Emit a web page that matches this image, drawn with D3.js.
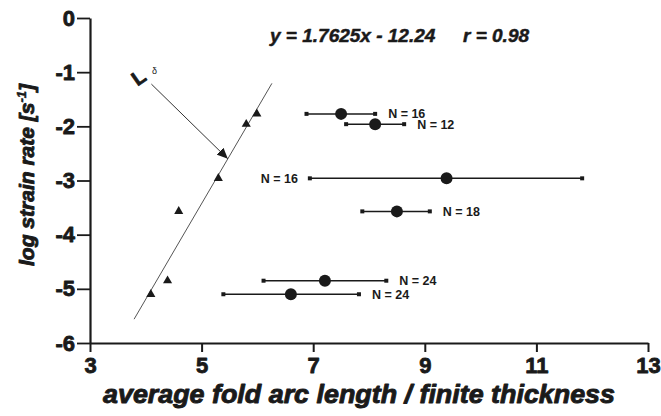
<!DOCTYPE html>
<html><head><meta charset="utf-8">
<script src="https://cdn.jsdelivr.net/npm/d3@7"></script>
<style>
html,body{margin:0;padding:0;background:#fff;}
svg{display:block;font-family:"Liberation Sans",Arial,sans-serif;}
</style></head><body>
<svg id="chart" width="661" height="416"></svg>
<script>
// Triangles: samples used for the regression fit
const triArc  = [4.09, 4.39, 4.59, 5.30, 5.80, 5.99];
const triRate = [-5.10, -4.85, -3.57, -2.96, -1.96, -1.77];

// Circles: mean arc length / thickness with min-max range bars
const circArc  = [7.50, 8.11, 9.39, 8.50, 7.21, 6.60];
const circLo   = [6.88, 7.59, 6.94, 7.88, 6.11, 5.39];
const circHi   = [8.11, 8.63, 11.82, 9.09, 8.31, 7.82];
const circRate = [-1.77, -1.96, -2.96, -3.57, -4.85, -5.10];
const circN    = [16, 12, 16, 18, 24, 24];
const circSide = ["right", "right", "left", "right", "right", "right"];

// Axis ticks
const xMajor = [3, 5, 7, 9, 11, 13];
const xMinor = [3.4, 3.8, 4.2, 4.6, 5.4, 5.8, 6.2, 6.6, 7.4, 7.8, 8.2, 8.6,
                9.4, 9.8, 10.2, 10.6, 11.4, 11.8, 12.2, 12.6];
const yMajor = [0, -1, -2, -3, -4, -5, -6];
const yMinor = [-0.5, -1.5, -2.5, -3.5, -4.5, -5.5];

// Regression line y = a x + b
const slope = 1.7625, intercept = -12.24, rValue = 0.98;
const fitRange = [3.79, 6.26];

// L-delta annotation arrow (data coordinates)
const arrowFrom = [4.10, -1.22];
const arrowTo   = [5.47, -2.60];

const svg = d3.select("#chart");
const ink = "#1a1a1a";
const FONT = "'Liberation Sans', Arial, sans-serif";

const x = d3.scaleLinear().domain([3, 13]).range([90, 648]);
const y = d3.scaleLinear().domain([-6, 0]).range([343, 18]);

// heavy text: bold face plus a thin outline of the same ink
function heavy(sel, w) {
  return sel.attr("fill", ink).attr("stroke", ink).attr("stroke-width", w)
    .attr("stroke-linejoin", "round").attr("font-weight", "bold");
}

// ---- axes ----
const gx = svg.append("g").attr("transform", `translate(0,${y(-6)})`);
gx.call(d3.axisBottom(x).tickValues(xMinor).tickSize(4).tickSizeOuter(0).tickFormat(""));
gx.call(d3.axisBottom(x).tickValues(xMajor).tickSize(9).tickSizeOuter(0).tickPadding(5));
gx.selectAll("path").attr("stroke", ink).attr("stroke-width", 2.2);
gx.selectAll("line").attr("stroke", ink).attr("stroke-width", 2);
heavy(gx.selectAll("text"), 0.8).attr("font-size", 22).attr("font-family", FONT);

const gy = svg.append("g").attr("transform", `translate(${x(3)},0)`);
gy.call(d3.axisLeft(y).tickValues(yMinor).tickSize(4).tickSizeOuter(0).tickFormat(""));
gy.call(d3.axisLeft(y).tickValues(yMajor).tickSize(13).tickSizeOuter(0).tickPadding(2)
  .tickFormat(d3.format("d")));
gy.selectAll("path").attr("stroke", ink).attr("stroke-width", 2.2);
gy.selectAll("line").attr("stroke", ink).attr("stroke-width", 1.8);
heavy(gy.selectAll("text"), 0.8).attr("font-size", 22).attr("font-family", FONT)
  .text(d => d < 0 ? "-" + Math.abs(d) : d);

// ---- axis titles ----
heavy(svg.append("text"), 0.9)
  .attr("x", 103).attr("y", 403)
  .attr("textLength", 512).attr("lengthAdjust", "spacingAndGlyphs")
  .attr("font-size", 25).attr("font-style", "italic")
  .text("average fold arc length / finite thickness");

const yt = heavy(svg.append("text"), 0.9)
  .attr("transform", "translate(34,175) rotate(-90)")
  .attr("text-anchor", "middle")
  .attr("font-size", 21).attr("font-style", "italic");
yt.append("tspan").text("log strain rate [s");
yt.append("tspan").attr("font-size", 13).attr("dy", -8).attr("stroke-width", 0.5).text("-1");
yt.append("tspan").attr("dy", 8).text("]");

// ---- regression line ----
svg.append("line")
  .attr("x1", x(fitRange[0])).attr("y1", y(slope * fitRange[0] + intercept))
  .attr("x2", x(fitRange[1])).attr("y2", y(slope * fitRange[1] + intercept))
  .attr("stroke", "#555").attr("stroke-width", 1);

// equation
heavy(svg.append("text"), 0.5)
  .attr("x", 270).attr("y", 42)
  .attr("font-size", 19).attr("font-style", "italic")
  .text(`y = ${slope}x - ${Math.abs(intercept)}`);
heavy(svg.append("text"), 0.5)
  .attr("x", 463).attr("y", 42)
  .attr("font-size", 19).attr("font-style", "italic")
  .text(`r = ${rValue}`);

// ---- L-delta annotation ----
svg.append("defs").append("marker")
  .attr("id", "head").attr("viewBox", "0 0 10 10")
  .attr("refX", 10).attr("refY", 5)
  .attr("markerWidth", 11).attr("markerHeight", 11)
  .attr("markerUnits", "userSpaceOnUse")
  .attr("orient", "auto")
  .append("path").attr("d", "M0,0.5 L10,5 L0,9.5 Z").attr("fill", ink);

svg.append("line")
  .attr("x1", x(arrowFrom[0])).attr("y1", y(arrowFrom[1]))
  .attr("x2", x(arrowTo[0])).attr("y2", y(arrowTo[1]))
  .attr("stroke", "#333").attr("stroke-width", 1)
  .attr("marker-end", "url(#head)");

heavy(svg.append("text"), 0.8)
  .attr("transform", `translate(${x(arrowFrom[0]) - 9},${y(arrowFrom[1]) - 1}) rotate(-35)`)
  .attr("text-anchor", "middle")
  .attr("font-size", 20)
  .text("L");
svg.append("text")
  .attr("x", x(arrowFrom[0]) + 0.5).attr("y", y(arrowFrom[1]) - 10)
  .attr("font-size", 9).attr("fill", ink)
  .text("δ");

// ---- range bars with circles ----
const circles = circArc.map((m, i) => ({
  m, lo: circLo[i], hi: circHi[i], r: circRate[i], n: circN[i], side: circSide[i]
}));

const gc = svg.append("g");
gc.selectAll("line.bar").data(circles).join("line")
  .attr("class", "bar")
  .attr("x1", d => x(d.lo)).attr("x2", d => x(d.hi))
  .attr("y1", d => y(d.r)).attr("y2", d => y(d.r))
  .attr("stroke", ink).attr("stroke-width", 1.5);
gc.selectAll("rect.capL").data(circles).join("rect")
  .attr("class", "capL")
  .attr("x", d => x(d.lo) - 2).attr("y", d => y(d.r) - 2)
  .attr("width", 4).attr("height", 4).attr("fill", ink);
gc.selectAll("rect.capR").data(circles).join("rect")
  .attr("class", "capR")
  .attr("x", d => x(d.hi) - 2).attr("y", d => y(d.r) - 2)
  .attr("width", 4).attr("height", 4).attr("fill", ink);
gc.selectAll("circle").data(circles).join("circle")
  .attr("cx", d => x(d.m)).attr("cy", d => y(d.r))
  .attr("r", 6).attr("fill", ink);
gc.selectAll("text").data(circles).join("text")
  .attr("x", d => d.side === "right" ? x(d.hi) + 13 : x(d.lo) - 12)
  .attr("y", d => y(d.r) + 4.5)
  .attr("text-anchor", d => d.side === "right" ? "start" : "end")
  .attr("font-size", 12.5).attr("font-weight", "bold")
  .attr("fill", ink)
  .text(d => `N = ${d.n}`);

// ---- triangles ----
svg.append("g").selectAll("path").data(triArc.map((a, i) => [a, triRate[i]])).join("path")
  .attr("transform", d => `translate(${x(d[0])},${y(d[1])})`)
  .attr("d", d3.symbol(d3.symbolTriangle, 36))
  .attr("fill", ink);
</script>
</body></html>
